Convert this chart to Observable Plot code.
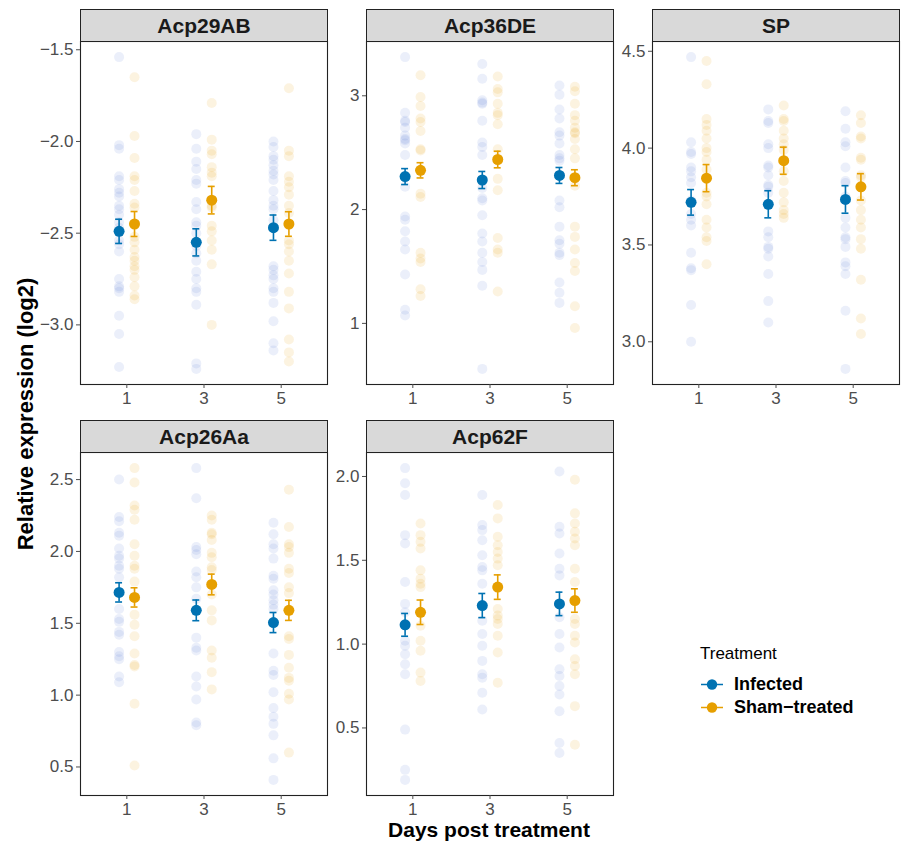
<!DOCTYPE html>
<html><head><meta charset="utf-8">
<script src="https://cdn.jsdelivr.net/npm/d3@7"></script>
<script src="https://cdn.jsdelivr.net/npm/@observablehq/plot@0.6"></script>
<style>
body{margin:0;background:#fff;}
#chart{position:relative;width:903px;height:842px;background:#fff;font-family:"Liberation Sans",Arial,sans-serif;overflow:hidden;}
.panel{position:absolute;}
.strip{position:absolute;box-sizing:border-box;background:#d9d9d9;border:1px solid #222;font-weight:bold;font-size:21px;color:#1a1a1a;display:flex;align-items:center;justify-content:center;}
.ytitle{position:absolute;font-weight:bold;font-size:22px;color:#000;white-space:nowrap;transform:translate(-50%,-50%) rotate(-90deg);}
.xtitle{position:absolute;font-weight:bold;font-size:21px;color:#000;white-space:nowrap;transform:translate(-50%,-50%);}
.legtitle{position:absolute;font-size:17px;color:#000;white-space:nowrap;transform:translateY(-50%);}
.legitem{position:absolute;display:flex;align-items:center;font-weight:bold;font-size:18px;color:#000;white-space:nowrap;transform:translateY(-50%);}
.legitem svg{margin-right:10px;}
</style>
</head><body>
<div id="chart"></div>
<script>
// ---------- data ----------
const genes = ["Acp29AB", "Acp36DE", "SP", "Acp26Aa", "Acp62F"];
const days = [1, 3, 5];
const treatments = ["Infected", "Sham\u2212treated"];
const dayTicks = [1, 3, 5];

// raw values: [day1, day3, day5]
const acp29abInfected = [
  [-1.54,-2.02,-2.04,-2.19,-2.21,-2.26,-2.28,-2.30,-2.35,-2.37,-2.40,-2.44,-2.47,-2.54,-2.56,-2.60,-2.75,-2.79,-2.80,-2.82,-2.95,-3.05,-3.23],
  [-1.96,-2.04,-2.11,-2.15,-2.21,-2.23,-2.33,-2.37,-2.44,-2.46,-2.50,-2.57,-2.61,-2.65,-2.71,-2.75,-2.80,-2.82,-2.89,-3.21,-3.24],
  [-2.00,-2.03,-2.08,-2.10,-2.13,-2.16,-2.18,-2.21,-2.27,-2.32,-2.35,-2.37,-2.43,-2.68,-2.70,-2.73,-2.75,-2.80,-2.82,-2.88,-2.98,-3.10,-3.14]
];
const acp29abSham = [
  [-1.65,-1.97,-2.09,-2.19,-2.21,-2.27,-2.34,-2.36,-2.45,-2.52,-2.55,-2.59,-2.63,-2.65,-2.68,-2.70,-2.74,-2.79,-2.84,-2.86],
  [-1.79,-1.99,-2.05,-2.07,-2.14,-2.17,-2.19,-2.35,-2.36,-2.46,-2.49,-2.54,-2.59,-2.67,-3.00],
  [-1.71,-2.05,-2.08,-2.19,-2.22,-2.25,-2.29,-2.35,-2.39,-2.54,-2.56,-2.60,-2.65,-2.72,-2.82,-2.91,-3.08,-3.15,-3.20]
];
const acp36deInfected = [
  [3.34,2.85,2.78,2.77,2.72,2.65,2.62,2.61,2.58,2.48,2.20,1.94,1.91,1.81,1.72,1.65,1.43,1.12,1.07],
  [3.28,3.15,2.96,2.94,2.93,2.78,2.59,2.55,2.48,2.19,2.10,2.08,1.95,1.79,1.72,1.62,1.54,1.47,1.33,0.60],
  [3.09,3.01,2.88,2.80,2.68,2.65,2.58,2.48,2.45,2.43,2.08,2.02,1.85,1.73,1.70,1.62,1.60,1.36,1.27,1.18]
];
const acp36deSham = [
  [3.18,2.99,2.91,2.80,2.77,2.69,2.53,2.52,2.14,2.11,1.62,1.57,1.54,1.30,1.24],
  [3.17,3.06,3.03,2.93,2.85,2.83,2.75,2.53,2.27,2.17,1.75,1.65,1.62,1.28],
  [3.08,3.04,2.93,2.83,2.78,2.72,2.68,2.67,2.62,2.53,2.45,2.21,1.85,1.76,1.65,1.53,1.46,1.15,0.96]
];
const spInfected = [
  [4.47,4.03,3.98,3.97,3.90,3.88,3.85,3.82,3.73,3.66,3.63,3.60,3.46,3.38,3.37,3.19,3.00],
  [4.20,4.14,4.13,4.02,4.00,3.91,3.90,3.86,3.81,3.80,3.77,3.57,3.54,3.49,3.48,3.44,3.35,3.21,3.10],
  [4.19,4.10,4.03,4.01,3.90,3.83,3.82,3.75,3.64,3.59,3.54,3.53,3.49,3.41,3.39,3.35,3.16,2.86]
];
const spSham = [
  [4.45,4.33,4.15,4.12,4.09,4.05,4.00,3.98,3.94,3.89,3.77,3.75,3.71,3.63,3.59,3.54,3.52,3.40],
  [4.22,4.15,4.14,4.09,4.05,4.02,3.99,3.88,3.83,3.77,3.72,3.68,3.66,3.64],
  [4.17,4.13,4.06,4.05,3.95,3.94,3.86,3.85,3.73,3.68,3.63,3.59,3.53,3.48,3.32,3.12,3.04]
];
const acp26aaInfected = [
  [2.50,2.24,2.21,2.13,2.11,2.02,1.97,1.95,1.90,1.88,1.82,1.60,1.53,1.51,1.44,1.42,1.30,1.27,1.25,1.13,1.09],
  [2.58,2.37,2.03,2.01,1.98,1.86,1.82,1.75,1.67,1.40,1.33,1.31,1.13,1.06,0.97,0.81,0.79],
  [2.20,2.12,2.05,2.02,1.95,1.83,1.81,1.73,1.70,1.66,1.63,1.60,1.29,1.17,1.14,1.02,0.91,0.85,0.80,0.72,0.56,0.41]
];
const acp26aaSham = [
  [2.58,2.48,2.32,2.29,2.22,2.05,1.97,1.90,1.88,1.79,1.56,1.49,1.41,1.29,1.21,1.20,0.94,0.51],
  [2.25,2.22,2.13,2.12,2.08,1.99,1.96,1.89,1.87,1.70,1.59,1.52,1.31,1.26,1.16,1.04],
  [2.43,2.17,2.05,2.03,1.99,1.88,1.85,1.75,1.71,1.41,1.39,1.28,1.19,1.12,1.10,1.01,0.97,0.60]
];
const acp62fInfected = [
  [2.05,1.96,1.89,1.65,1.60,1.37,1.24,1.19,1.02,0.99,0.94,0.88,0.82,0.49,0.25,0.19],
  [1.89,1.71,1.68,1.62,1.53,1.46,1.44,1.36,1.14,1.06,0.99,0.90,0.82,0.80,0.71,0.61],
  [2.03,1.70,1.66,1.54,1.45,1.41,1.16,1.06,0.98,0.85,0.81,0.75,0.70,0.60,0.41,0.35]
];
const acp62fSham = [
  [1.72,1.65,1.61,1.57,1.44,1.39,1.36,1.34,1.11,1.02,0.96,0.83,0.78],
  [1.83,1.75,1.64,1.59,1.55,1.51,1.47,1.21,1.17,1.15,1.12,1.05,0.95,0.77],
  [1.98,1.78,1.72,1.67,1.63,1.59,1.45,1.37,1.15,1.12,1.05,1.01,0.91,0.87,0.82,0.63,0.40]
];

// means and standard errors: [Infected[d1,d3,d5], Sham[d1,d3,d5]]
const acp29abMean = [[-2.49,-2.55,-2.47],[-2.45,-2.32,-2.45]];
const acp29abSE   = [[0.066,0.074,0.069],[0.068,0.075,0.067]];
const acp36deMean = [[2.29,2.26,2.30],[2.345,2.44,2.28]];
const acp36deSE   = [[0.07,0.075,0.07],[0.067,0.073,0.07]];
const spMean      = [[3.72,3.71,3.735],[3.845,3.935,3.80]];
const spSE        = [[0.066,0.07,0.071],[0.07,0.07,0.068]];
const acp26aaMean = [[1.715,1.59,1.505],[1.68,1.77,1.59]];
const acp26aaSE   = [[0.067,0.072,0.07],[0.067,0.072,0.07]];
const acp62fMean  = [[1.115,1.23,1.24],[1.19,1.34,1.26]];
const acp62fSE    = [[0.068,0.072,0.07],[0.073,0.073,0.07]];

// y tick values per panel
const acp29abTicks = [-3.0,-2.5,-2.0,-1.5];
const acp36deTicks = [1,2,3];
const spTicks      = [3.0,3.5,4.0,4.5];
const acp26aaTicks = [0.5,1.0,1.5,2.0,2.5];
const acp62fTicks  = [0.5,1.0,1.5,2.0];

// ---------- styling / layout ----------
const meanColors = ["#0072B2", "#E69F00"];
const rawColors = ["#5a78d6", "#E69F00"];
const dodge = [-0.2, 0.2];
const FONT = "Liberation Sans, Arial, sans-serif";

const panels = [
  {gene: genes[0], raw: [acp29abInfected, acp29abSham], mean: acp29abMean, se: acp29abSE, ticks: acp29abTicks, fmt: ".1f", L: 80, R: 327, T: 41, B: 384},
  {gene: genes[1], raw: [acp36deInfected, acp36deSham], mean: acp36deMean, se: acp36deSE, ticks: acp36deTicks, fmt: "d", L: 366, R: 613, T: 41, B: 384},
  {gene: genes[2], raw: [spInfected, spSham], mean: spMean, se: spSE, ticks: spTicks, fmt: ".1f", L: 652, R: 899, T: 41, B: 384},
  {gene: genes[3], raw: [acp26aaInfected, acp26aaSham], mean: acp26aaMean, se: acp26aaSE, ticks: acp26aaTicks, fmt: ".1f", L: 80, R: 327, T: 452, B: 795},
  {gene: genes[4], raw: [acp62fInfected, acp62fSham], mean: acp62fMean, se: acp62fSE, ticks: acp62fTicks, fmt: ".1f", L: 366, R: 613, T: 452, B: 795}
];

const chart = document.getElementById("chart");
const mL = 50, mR = 1, mT = 1, mB = 30;

for (const p of panels) {
  const rawRows = [];
  p.raw.forEach((byDay, t) => byDay.forEach((vals, i) => vals.forEach(v => rawRows.push({trt: t, day: days[i], value: v}))));
  const meanRows = [];
  p.mean.forEach((arr, t) => arr.forEach((m, i) => meanRows.push({trt: t, day: days[i], mean: m, lo: m - p.se[t][i], hi: m + p.se[t][i]})));
  const ext = d3.extent(rawRows.concat(meanRows.flatMap(d => [{value: d.lo}, {value: d.hi}])), d => d.value);
  const pad = (ext[1] - ext[0]) * 0.05;

  const marks = [];
  for (let t = 0; t < 2; t++) {
    marks.push(Plot.dot(rawRows.filter(d => d.trt === t), {
      x: d => d.day + dodge[t], y: "value", r: 5, fill: rawColors[t], fillOpacity: 0.12, stroke: "none"
    }));
  }
  for (let t = 0; t < 2; t++) {
    const rows = meanRows.filter(d => d.trt === t);
    marks.push(
      Plot.ruleX(rows, {x: d => d.day + dodge[t], y1: "lo", y2: "hi", stroke: meanColors[t], strokeWidth: 1.6}),
      Plot.ruleY(rows, {y: "hi", x1: d => d.day + dodge[t] - 0.09, x2: d => d.day + dodge[t] + 0.09, stroke: meanColors[t], strokeWidth: 1.6}),
      Plot.ruleY(rows, {y: "lo", x1: d => d.day + dodge[t] - 0.09, x2: d => d.day + dodge[t] + 0.09, stroke: meanColors[t], strokeWidth: 1.6}),
      Plot.dot(rows, {x: d => d.day + dodge[t], y: "mean", r: 5.5, fill: meanColors[t], stroke: "none"})
    );
  }
  marks.push(
    Plot.frame({stroke: "#222", strokeWidth: 1.1}),
    Plot.axisX({ticks: dayTicks, tickFormat: d3.format("d"), tickSize: 4, tickPadding: 3, color: "#4d4d4d", fontSize: 17, label: null}),
    Plot.axisY({ticks: p.ticks, tickFormat: d3.format(p.fmt), tickSize: 4, tickPadding: 3, color: "#4d4d4d", fontSize: 17, label: null})
  );

  const w = (p.R - p.L) + mL + mR, h = (p.B - p.T) + mT + mB;
  const svg = Plot.plot({
    width: w, height: h,
    marginLeft: mL, marginRight: mR, marginTop: mT, marginBottom: mB,
    x: {domain: [-0.2, 6.2]},
    y: {domain: [ext[0] - pad, ext[1] + pad]},
    style: {fontFamily: FONT, fontSize: "17px", background: "transparent", overflow: "visible"},
    marks
  });
  svg.classList.add("panel");
  svg.style.left = (p.L - mL) + "px";
  svg.style.top = (p.T - mT) + "px";
  chart.appendChild(svg);

  const strip = document.createElement("div");
  strip.className = "strip";
  strip.textContent = p.gene;
  strip.style.left = p.L + "px";
  strip.style.width = (p.R - p.L + 1) + "px";
  strip.style.top = (p.T - 32) + "px";
  strip.style.height = "33px";
  chart.appendChild(strip);
}

// axis titles
const yt = document.createElement("div");
yt.className = "ytitle"; yt.textContent = "Relative expression (log2)";
yt.style.left = "26px"; yt.style.top = "414px";
chart.appendChild(yt);
const xt = document.createElement("div");
xt.className = "xtitle"; xt.textContent = "Days post treatment";
xt.style.left = "489px"; xt.style.top = "830px";
chart.appendChild(xt);

// legend
const lt = document.createElement("div");
lt.className = "legtitle"; lt.textContent = "Treatment";
lt.style.left = "700px"; lt.style.top = "654px";
chart.appendChild(lt);
treatments.forEach((name, t) => {
  const item = document.createElement("div");
  item.className = "legitem";
  item.style.left = "700px";
  item.style.top = (684 + t * 23) + "px";
  const ns = "http://www.w3.org/2000/svg";
  const s = document.createElementNS(ns, "svg");
  s.setAttribute("width", 24); s.setAttribute("height", 14);
  const ln = document.createElementNS(ns, "line");
  ln.setAttribute("x1", 1); ln.setAttribute("x2", 23); ln.setAttribute("y1", 7); ln.setAttribute("y2", 7);
  ln.setAttribute("stroke", meanColors[t]); ln.setAttribute("stroke-width", 1.6);
  const c = document.createElementNS(ns, "circle");
  c.setAttribute("cx", 12); c.setAttribute("cy", 7); c.setAttribute("r", 5.2); c.setAttribute("fill", meanColors[t]);
  s.appendChild(ln); s.appendChild(c);
  item.appendChild(s);
  const span = document.createElement("span");
  span.textContent = name;
  item.appendChild(span);
  chart.appendChild(item);
});
</script>
</body></html>
